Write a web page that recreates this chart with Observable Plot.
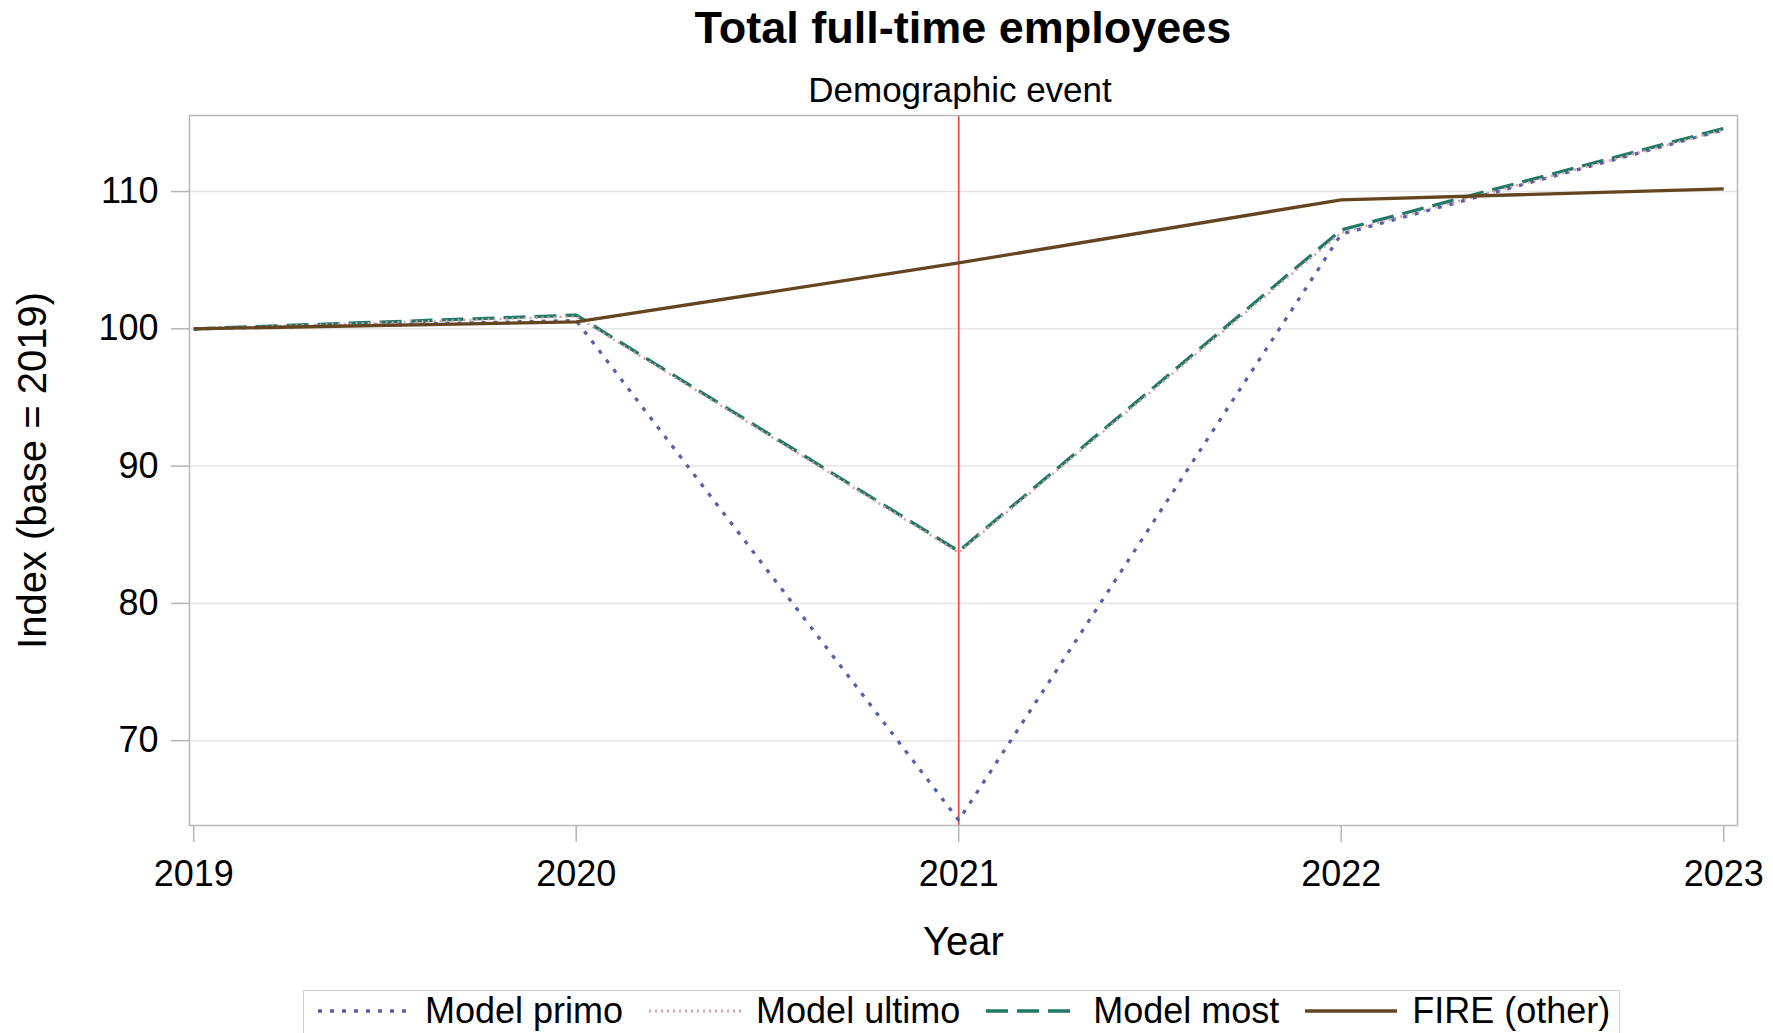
<!DOCTYPE html>
<html>
<head>
<meta charset="utf-8">
<script src="https://cdn.jsdelivr.net/npm/d3@7"></script>
<script src="https://cdn.jsdelivr.net/npm/@observablehq/plot@0.6"></script>
<style>
  html, body { margin: 0; padding: 0; background: #fff; }
  body { font-family: "Liberation Sans", Arial, Helvetica, sans-serif; color: #000; }
  #wrap { position: relative; width: 1773px; height: 1033px; overflow: hidden; background: #fff; }
  #chart { position: absolute; left: 0; top: 0; }
  #title { position: absolute; left: 463px; width: 1000px; top: 5px; text-align: center;
           font-size: 45px; line-height: 45px; font-weight: bold; }
  #subtitle { position: absolute; left: 460px; width: 1000px; top: 72px; text-align: center;
              font-size: 35px; line-height: 35px; }
  #legend { position: absolute; left: 303px; top: 990px; width: 1317px; height: 46px;
            border: 1.5px solid #cfcfcf; box-sizing: border-box; display: flex; align-items: center;
            padding: 0 0 4px 14px; }
  .item { display: flex; align-items: center; margin-right: 26px; }
  .item svg { display: block; margin-right: 15px; }
  .item span { font-size: 36px; line-height: 36px; white-space: nowrap; }
</style>
</head>
<body>
<div id="wrap">
  <div id="chart"></div>
  <div id="title">Total full-time employees</div>
  <div id="subtitle">Demographic event</div>
  <div id="legend"></div>
</div>
<script>
// ---- data ----
const years = [2019, 2020, 2021, 2022, 2023];
const modelPrimo  = [100, 100.6, 64.2, 106.9, 114.5];
const modelUltimo = [100, 100.9, 83.7, 107.0, 114.5];
const modelMost   = [100, 101.0, 83.8, 107.2, 114.6];
const fireOther   = [100, 100.5, 104.8, 109.4, 110.2];
const yTicks = [70, 80, 90, 100, 110];
const eventYear = [2021];
const seriesNames = ["Model primo", "Model ultimo", "Model most", "FIRE (other)"];
const xLabel = "Year";
const yLabel = "Index (base = 2019)";

// ---- styles ----
const styles = {
  "Model primo":  {stroke: "#5a5eab", dash: "4,8",  width: 3.3},
  "Model ultimo": {stroke: "#d9a1a6", dash: "2,4",  width: 2.5},
  "Model most":   {stroke: "#1f7868", dash: "22,9", width: 3.3},
  "FIRE (other)": {stroke: "#654520", dash: null,   width: 3.3}
};
const seriesValues = [modelPrimo, modelUltimo, modelMost, fireOther];
const rowsFor = (vals) => years.map((year, i) => ({year, value: vals[i]}));

const drawOrder = [0, 2, 1, 3];
const lineMarks = drawOrder.map(k => {
  const name = seriesNames[k];
  const s = styles[name];
  return Plot.line(rowsFor(seriesValues[k]), {
    x: "year", y: "value",
    stroke: s.stroke, strokeWidth: s.width,
    strokeDasharray: s.dash || undefined,
    strokeLinecap: "butt", strokeLinejoin: "miter"
  });
});

const font = "'Liberation Sans', Arial, Helvetica, sans-serif";

const chart = Plot.plot({
  width: 1773,
  height: 980,
  marginTop: 115,
  marginBottom: 155,
  marginLeft: 189,
  marginRight: 36,
  style: {fontFamily: font, background: "transparent", color: "#000", overflow: "visible"},
  x: {domain: [2018.989, 2023.036]},
  y: {domain: [63.82, 115.54]},
  marks: [
    Plot.gridY(yTicks, {stroke: "#e5e5e5", strokeOpacity: 1, strokeWidth: 1.5}),
    Plot.ruleX(eventYear, {stroke: "#e8433e", strokeWidth: 1.6}),
    ...lineMarks,
    Plot.frame({stroke: "#b9b9b9", strokeWidth: 1.5}),
    Plot.axisY(yTicks, {tickSize: 18, tickPadding: 13, fontSize: 36, stroke: "#b5b5b5", strokeWidth: 1.5, fill: "#000", label: null}),
    Plot.axisX(years, {tickSize: 17, tickPadding: 18, fontSize: 36, stroke: "#b5b5b5", strokeWidth: 1.5, fill: "#000", label: null, tickFormat: d => String(d)}),
    Plot.text([xLabel], {text: d => d, frameAnchor: "bottom", lineAnchor: "middle", textAnchor: "middle", dy: 117, fontSize: 40, fill: "#000"}),
    Plot.text([yLabel], {text: d => d, frameAnchor: "left", lineAnchor: "middle", textAnchor: "middle", dx: -156, rotate: -90, fontSize: 40, fill: "#000"})
  ]
});
document.getElementById("chart").appendChild(chart);

// ---- legend ----
const legend = d3.select("#legend");
seriesNames.forEach((name, i) => {
  const s = styles[name];
  const item = legend.append("div").attr("class", "item");
  if (i === seriesNames.length - 1) item.style("margin-right", "0px");
  const svg = item.append("svg").attr("width", 92).attr("height", 12);
  svg.append("line").attr("x1", 0).attr("x2", 92).attr("y1", 6).attr("y2", 6)
    .attr("stroke", s.stroke).attr("stroke-width", s.width + 0.3)
    .attr("stroke-dasharray", s.dash);
  item.append("span").text(name);
});
</script>
</body>
</html>
